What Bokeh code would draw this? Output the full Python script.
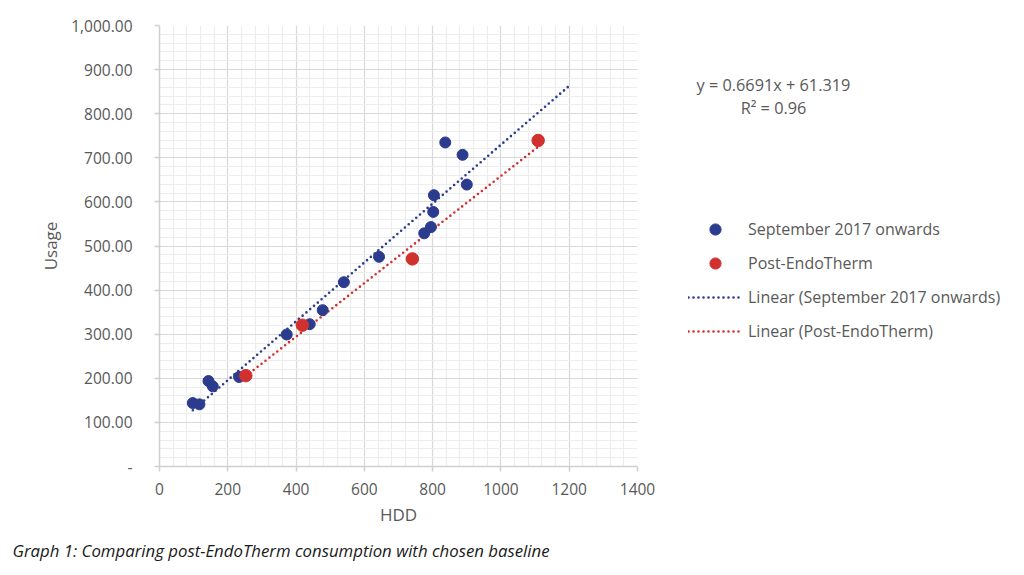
import numpy as np
from bokeh.plotting import figure
from bokeh.models import Range1d, FixedTicker, Legend, LegendItem, Label
from bokeh.embed import file_html
from bokeh.resources import INLINE

# ---- data ----
sept_hdd = [97.6, 117, 143.4, 156, 233, 372.6, 440, 478, 540, 643,
            775.4, 795, 801.7, 803.7, 837, 887.6, 900]
sept_usage = [143.9, 141, 193.9, 181.8, 203, 299.3, 322.7, 354.5, 418, 475.5,
              528.8, 543, 577.3, 615.2, 734.8, 706.8, 639.3]
post_hdd = [252.8, 418.4, 740.5, 1109]
post_usage = [206, 320.4, 470.8, 739.3]

series_names = ["September 2017 onwards", "Post-EndoTherm",
                "Linear (September 2017 onwards)", "Linear (Post-EndoTherm)"]
x_ticks = [0, 200, 400, 600, 800, 1000, 1200, 1400]
x_tick_labels = ["0", "200", "400", "600", "800", "1000", "1200", "1400"]
y_ticks = [0, 100, 200, 300, 400, 500, 600, 700, 800, 900, 1000]
y_tick_labels = ["-", "100.00", "200.00", "300.00", "400.00", "500.00",
                 "600.00", "700.00", "800.00", "900.00", "1,000.00"]
eq_text = "y = 0.6691x + 61.319"
r2_text = "R\u00b2 = 0.96"
x_title = "HDD"
y_title = "Usage"
caption = "Graph 1: Comparing post-EndoTherm consumption with chosen baseline"
forecast_forward = 300  # Excel trendline forward forecast for the baseline series

BLUE = "#2B3B8D"
RED = "#D0312F"
TXT = "#595959"
FONT = "Open Sans"

# ---- figure ----
p = figure(frame_width=478, frame_height=441,
           min_border_left=159, min_border_right=379,
           min_border_top=25, min_border_bottom=101,
           x_range=Range1d(0, 1400), y_range=Range1d(0, 1000),
           output_backend="svg", toolbar_location=None,
           background_fill_color="white", border_fill_color="white")
p.outline_line_color = None

p.xaxis.ticker = FixedTicker(ticks=x_ticks, minor_ticks=list(range(0, 1401, 40)))
p.yaxis.ticker = FixedTicker(ticks=y_ticks, minor_ticks=list(range(0, 1001, 20)))
p.xaxis.major_label_overrides = {t: l for t, l in zip(x_ticks, x_tick_labels)}
p.yaxis.major_label_overrides = {t: l for t, l in zip(y_ticks, y_tick_labels)}

for ax in (p.xaxis, p.yaxis):
    ax.axis_line_color = "#D0D0D0"
    ax.axis_line_width = 1.5
    ax.major_tick_line_color = "#D0D0D0"
    ax.major_tick_line_width = 1.5
    ax.major_tick_in = 0
    ax.major_tick_out = 5
    ax.minor_tick_line_color = None
    ax.major_label_text_font = FONT
    ax.major_label_text_font_size = "15.5px"
    ax.major_label_text_color = TXT
    ax.axis_label_text_font = FONT
    ax.axis_label_text_font_size = "17px"
    ax.axis_label_text_font_style = "normal"
    ax.axis_label_text_color = TXT

p.xaxis.axis_label = x_title
p.yaxis.axis_label = y_title
p.xaxis.major_label_standoff = 11
p.yaxis.major_label_standoff = 22
p.xaxis.axis_label_standoff = 5
p.yaxis.axis_label_standoff = 6

p.grid.grid_line_color = "#D9D9D9"
p.grid.grid_line_width = 1.2
p.grid.minor_grid_line_color = "#EDEDED"
p.grid.minor_grid_line_width = 1.2

# ---- trendlines (least squares from the data) ----
bx = np.array(sept_hdd, dtype=float)
by = np.array(sept_usage, dtype=float)
rx = np.array(post_hdd, dtype=float)
ry = np.array(post_usage, dtype=float)
bm, bc = np.polyfit(bx, by, 1)
rm, rc = np.polyfit(rx, ry, 1)
bxl = np.array([bx.min(), bx.max() + forecast_forward])
rxl = np.array([rx.min(), rx.max()])

l_blue = p.line(bxl, bm * bxl + bc, line_color=BLUE, line_width=2.6,
                line_dash="0 5", line_cap="round")
l_red = p.line(rxl, rm * rxl + rc, line_color=RED, line_width=2.6,
               line_dash="0 5", line_cap="round")

s_blue = p.scatter(sept_hdd, sept_usage, size=11, color=BLUE)
s_red = p.scatter(post_hdd, post_usage, size=12.5, color=RED)

# ---- legend (side panel, so it is not clipped to the frame) ----
legend = Legend(items=[
    LegendItem(label=series_names[0], renderers=[s_blue]),
    LegendItem(label=series_names[1], renderers=[s_red]),
    LegendItem(label=series_names[2], renderers=[l_blue]),
    LegendItem(label=series_names[3], renderers=[l_red]),
], location=(51, 121))
legend.glyph_width = 54
legend.glyph_height = 28
legend.label_height = 28
legend.spacing = 6
legend.padding = 0
legend.margin = 0
legend.label_standoff = 6
legend.border_line_color = None
legend.background_fill_alpha = 0
legend.label_text_font = FONT
legend.label_text_font_size = "16px"
legend.label_text_color = TXT
p.add_layout(legend, "right")

# ---- trendline equation (side panels so the texts are not clipped) ----
p.add_layout(Label(x=537, y=-59, x_units="screen", y_units="screen", text=eq_text,
                   text_align="left", text_baseline="middle", text_font=FONT,
                   text_font_size="16.3px", text_color=TXT), "above")

# ---- caption ----
p.add_layout(Label(x=-147, y=1, x_units="screen", y_units="screen", text=caption,
                   text_align="left", text_baseline="middle", text_font=FONT,
                   text_font_size="16.8px", text_font_style="italic",
                   text_color="#1A1A1A"), "below")

p.add_layout(Label(x=614, y=466, x_units="screen", y_units="screen", text=r2_text,
                   text_align="center", text_baseline="middle", text_font=FONT,
                   text_font_size="16.3px", text_color=TXT), "below")

open("out.html", "w").write(file_html(p, INLINE))
